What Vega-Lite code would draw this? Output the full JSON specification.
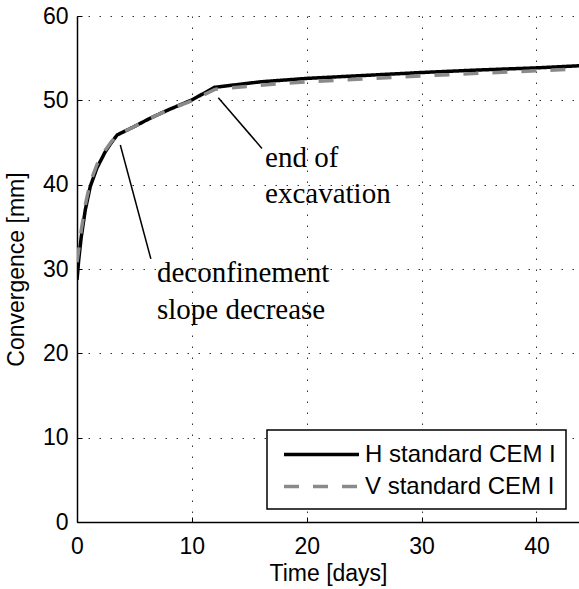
{
  "$schema": "https://vega.github.io/schema/vega-lite/v6.json",
  "width": 502,
  "height": 506,
  "autosize": {"type": "none"},
  "padding": {"left": 77, "top": 16, "right": 0, "bottom": 67},
  "datasets": {
    "curves": [
      {"series": "H standard CEM I", "t": 0, "conv": 28.7},
      {"series": "H standard CEM I", "t": 0.15, "conv": 31.1},
      {"series": "H standard CEM I", "t": 0.37, "conv": 33.8},
      {"series": "H standard CEM I", "t": 0.72, "conv": 37.0},
      {"series": "H standard CEM I", "t": 1.16, "conv": 39.8},
      {"series": "H standard CEM I", "t": 1.74, "conv": 42.0},
      {"series": "H standard CEM I", "t": 2.46, "conv": 43.9},
      {"series": "H standard CEM I", "t": 3.0, "conv": 45.0},
      {"series": "H standard CEM I", "t": 3.5, "conv": 45.9},
      {"series": "H standard CEM I", "t": 5.0, "conv": 46.9},
      {"series": "H standard CEM I", "t": 6.4, "conv": 47.9},
      {"series": "H standard CEM I", "t": 8.0, "conv": 48.9},
      {"series": "H standard CEM I", "t": 10.0, "conv": 50.05},
      {"series": "H standard CEM I", "t": 12.0, "conv": 51.55},
      {"series": "H standard CEM I", "t": 16.0, "conv": 52.2},
      {"series": "H standard CEM I", "t": 20.0, "conv": 52.6},
      {"series": "H standard CEM I", "t": 25.0, "conv": 52.95},
      {"series": "H standard CEM I", "t": 30.0, "conv": 53.3},
      {"series": "H standard CEM I", "t": 35.0, "conv": 53.6},
      {"series": "H standard CEM I", "t": 40.0, "conv": 53.85},
      {"series": "H standard CEM I", "t": 43.7, "conv": 54.1},
      {"series": "V standard CEM I", "t": 0, "conv": 30.8},
      {"series": "V standard CEM I", "t": 0.15, "conv": 32.3},
      {"series": "V standard CEM I", "t": 0.37, "conv": 34.6},
      {"series": "V standard CEM I", "t": 0.72, "conv": 37.6},
      {"series": "V standard CEM I", "t": 1.16, "conv": 40.3},
      {"series": "V standard CEM I", "t": 1.74, "conv": 42.4},
      {"series": "V standard CEM I", "t": 2.46, "conv": 44.1},
      {"series": "V standard CEM I", "t": 3.0, "conv": 45.1},
      {"series": "V standard CEM I", "t": 3.5, "conv": 45.9},
      {"series": "V standard CEM I", "t": 5.0, "conv": 46.9},
      {"series": "V standard CEM I", "t": 6.4, "conv": 47.9},
      {"series": "V standard CEM I", "t": 8.0, "conv": 48.9},
      {"series": "V standard CEM I", "t": 10.0, "conv": 49.95},
      {"series": "V standard CEM I", "t": 12.0, "conv": 51.3},
      {"series": "V standard CEM I", "t": 16.0, "conv": 51.8},
      {"series": "V standard CEM I", "t": 20.0, "conv": 52.2},
      {"series": "V standard CEM I", "t": 25.0, "conv": 52.55},
      {"series": "V standard CEM I", "t": 30.0, "conv": 52.9},
      {"series": "V standard CEM I", "t": 35.0, "conv": 53.2},
      {"series": "V standard CEM I", "t": 40.0, "conv": 53.5},
      {"series": "V standard CEM I", "t": 43.7, "conv": 53.75}
    ],
    "arrows": [
      {"t1": 3.77, "c1": 44.7, "t2": 6.43, "c2": 31.2},
      {"t1": 12.3, "c1": 50.3, "t2": 16.1, "c2": 44.3}
    ],
    "notes": [
      {"t": 16.37, "conv": 42.15, "label": "end of"},
      {"t": 16.37, "conv": 37.8, "label": "excavation"},
      {"t": 6.96, "conv": 28.43, "label": "deconfinement"},
      {"t": 6.96, "conv": 24.08, "label": "slope decrease"}
    ]
  },
  "layer": [
    {
      "data": {"name": "curves"},
      "mark": {"type": "line", "strokeWidth": 3.5, "clip": true},
      "encoding": {
        "x": {
          "field": "t", "type": "quantitative",
          "scale": {"domain": [0, 43.7], "nice": false, "zero": false},
          "axis": {
            "title": "Time [days]",
            "values": [0, 10, 20, 30, 40],
            "titleX": 251, "titleY": 58.5, "titleBaseline": "alphabetic", "titleAlign": "center",
            "labelPadding": 18
          }
        },
        "y": {
          "field": "conv", "type": "quantitative",
          "scale": {"domain": [0, 60], "nice": false},
          "axis": {
            "title": "Convergence [mm]",
            "values": [0, 10, 20, 30, 40, 50, 60],
            "titleX": -61, "titleY": 253, "titleAngle": -90, "titleBaseline": "middle", "titleAlign": "center",
            "labelPadding": 14
          }
        },
        "color": {
          "field": "series", "type": "nominal",
          "scale": {"domain": ["H standard CEM I", "V standard CEM I"], "range": ["#000000", "#8a8a8a"]},
          "legend": {
            "title": null,
            "orient": "none", "legendX": 190, "legendY": 414,
            "symbolType": "M-3,0H3", "symbolSize": 625, "symbolStrokeWidth": 3.5,
            "symbolOffset": 30, "labelOffset": 29, "labelFontSize": 24, "labelLimit": 0,
            "rowPadding": 5, "padding": 10,
            "fillColor": "white", "strokeColor": "black"
          }
        },
        "strokeDash": {
          "field": "series", "type": "nominal",
          "scale": {"domain": ["H standard CEM I", "V standard CEM I"], "range": [[1, 0], [15, 14]]},
          "legend": null
        }
      }
    },
    {
      "data": {"name": "arrows"},
      "mark": {"type": "rule", "color": "black", "strokeWidth": 1.5},
      "encoding": {
        "x": {"field": "t1", "type": "quantitative"},
        "y": {"field": "c1", "type": "quantitative"},
        "x2": {"field": "t2"},
        "y2": {"field": "c2"}
      }
    },
    {
      "data": {"name": "notes"},
      "mark": {"type": "text", "align": "left", "baseline": "alphabetic", "font": "Liberation Serif", "fontSize": 29, "color": "black"},
      "encoding": {
        "x": {"field": "t", "type": "quantitative"},
        "y": {"field": "conv", "type": "quantitative"},
        "text": {"field": "label"}
      }
    }
  ],
  "config": {
    "font": "Liberation Sans",
    "view": {"stroke": null},
    "axis": {
      "grid": true,
      "gridDash": [1.5, 9.5],
      "gridColor": "#333333",
      "gridOpacity": 1,
      "gridWidth": 1,
      "domainColor": "black",
      "domainWidth": 1.5,
      "ticks": true,
      "tickSize": -5,
      "tickColor": "black",
      "tickWidth": 1,
      "labelFlush": false,
      "labelFontSize": 23,
      "labelColor": "black",
      "labelFont": "Liberation Sans",
      "titleFontSize": 23,
      "titleFontWeight": "normal",
      "titleColor": "black",
      "titleFont": "Liberation Sans"
    },
    "legend": {
      "labelColor": "black",
      "labelFont": "Liberation Sans",
      "strokeWidth": 1.5
    }
  }
}
